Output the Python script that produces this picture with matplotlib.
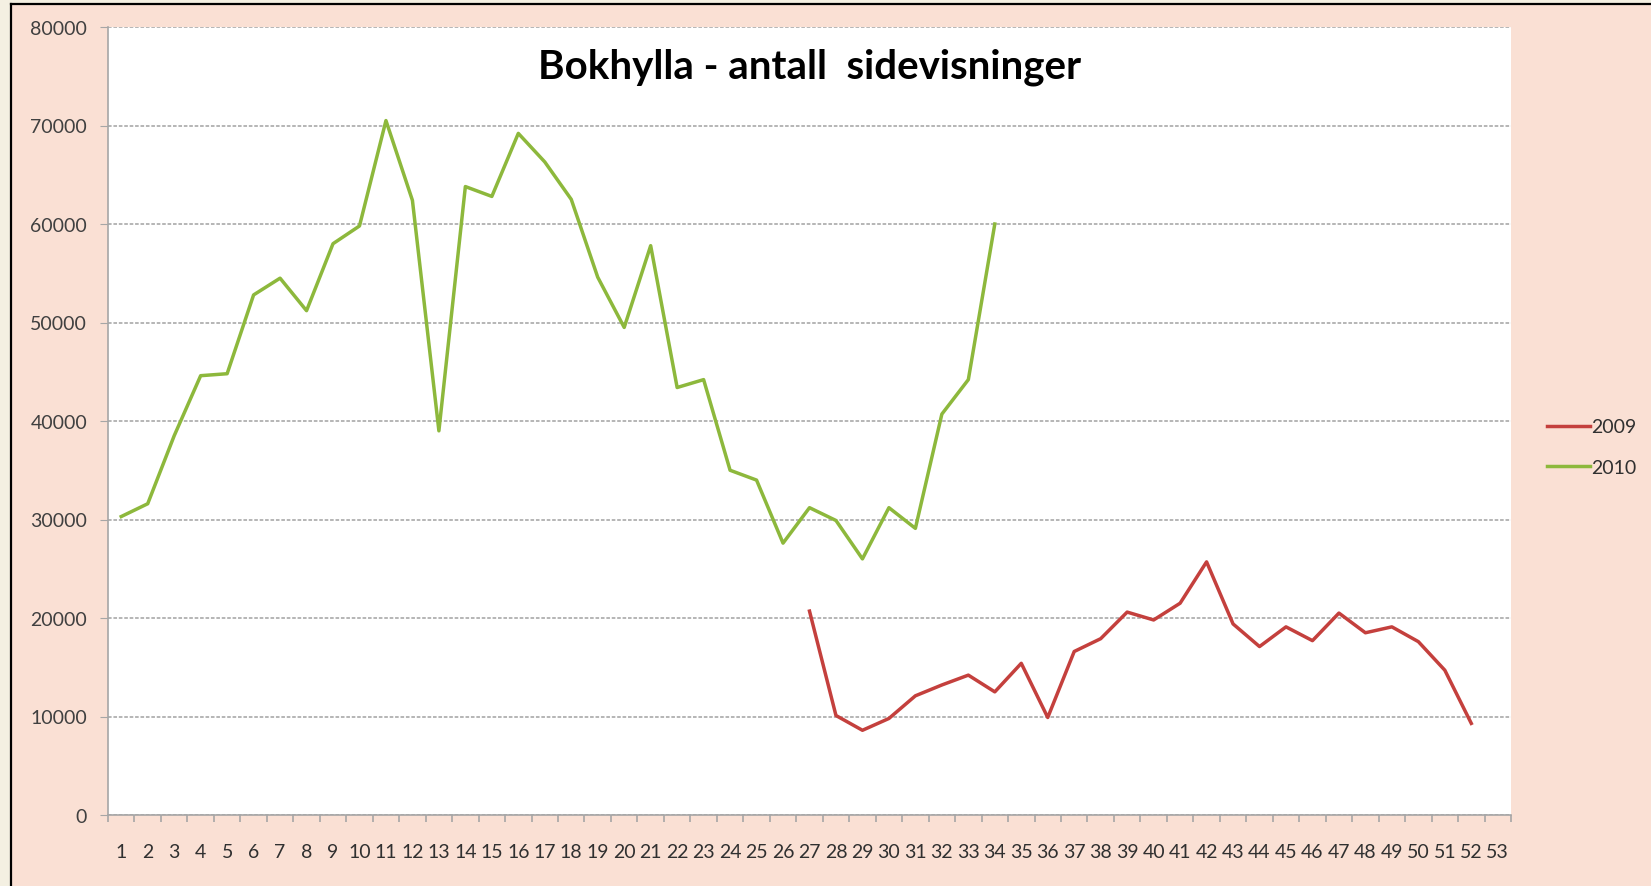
import matplotlib
matplotlib.use("Agg")
import matplotlib.pyplot as plt
from matplotlib.patches import Rectangle
from matplotlib.lines import Line2D

weeks = list(range(1, 54))
week_labels = [str(w) for w in weeks]

weeks_2009 = list(range(27, 53))
views_2009 = [20700, 10100, 8600, 9800, 12100, 13200, 14200, 12500, 15400, 9900,
              16600, 17900, 20600, 19800, 21500, 25700, 19400, 17100, 19100, 17700,
              20500, 18500, 19100, 17600, 14700, 9300]

weeks_2010 = list(range(1, 35))
views_2010 = [30300, 31600, 38500, 44600, 44800, 52800, 54500, 51200, 58000, 59800,
              70500, 62400, 39000, 63800, 62800, 69200, 66300, 62500, 54600, 49500,
              57800, 43400, 44200, 35000, 34000, 27600, 31200, 29900, 26000, 31200,
              29100, 40700, 44200, 60000]

y_ticks = list(range(0, 80001, 10000))
title = "Bokhylla - antall  sidevisninger"
series_names = ["2009", "2010"]

W, H = 1651, 887
fig = plt.figure(figsize=(W / 100, H / 100), dpi=100)
fig.patch.set_facecolor("#f4f0e2")

# textured pink chart area with black frame (left and top)
bg = Rectangle((11 / W, 0), 1 - 11 / W, 1 - 5 / H, transform=fig.transFigure,
               facecolor="#fae0d4", edgecolor="none", zorder=-10)
fig.patches.append(bg)
fig.lines.append(Line2D([11 / W, 11 / W], [0, 1 - 5 / H], transform=fig.transFigure,
                        color="black", lw=1.6, zorder=-5))
fig.lines.append(Line2D([11 / W, 1], [1 - 5 / H, 1 - 5 / H], transform=fig.transFigure,
                        color="black", lw=1.6, zorder=-5))

ax = fig.add_axes([108 / W, 1 - 816 / H, (1511 - 108) / W, (816 - 28) / H])
ax.set_zorder(1)
ax.set_facecolor("white")

red = "#C4403D"
green = "#8DB83C"
ax.plot(weeks_2009, views_2009, color=red, lw=2.5, label=series_names[0], zorder=3)
ax.plot(weeks_2010, views_2010, color=green, lw=2.5, label=series_names[1], zorder=3)

ax.set_xlim(0.5, 53.5)
ax.set_ylim(0, 80000)
ax.set_yticks(y_ticks)
ax.set_yticklabels([str(v) for v in y_ticks])
ax.set_xticks(weeks)
ax.set_xticklabels(week_labels)
ax.set_xticks([w + 0.5 for w in range(0, 54)], minor=True)

for s in ["top", "right"]:
    ax.spines[s].set_visible(False)
for s in ["left", "bottom"]:
    ax.spines[s].set_color("#a6a6a6")
    ax.spines[s].set_linewidth(1.2)

ax.grid(axis="y", color="#b0b0b0", lw=1.3, linestyle=(0, (2, 1)), zorder=1)
ax.set_axisbelow(True)

tick_font = "Lato"
ax.tick_params(axis="y", which="major", length=6, color="#a6a6a6", pad=9,
               labelsize=14, labelcolor="#404040")
ax.tick_params(axis="x", which="major", length=0, pad=20, labelsize=14, labelcolor="#303030")
ax.tick_params(axis="x", which="minor", length=5, color="#a6a6a6", width=1.2)
for lbl in ax.get_xticklabels() + ax.get_yticklabels():
    lbl.set_fontfamily(tick_font)

fig.text(810 / W, 1 - 78 / H, title, ha="center", va="baseline", fontsize=29,
         fontweight="bold", fontfamily="Lato", color="black", zorder=5)

leg = ax.legend(loc="center left", bbox_to_anchor=(1537 / W, 1 - 448 / H),
                bbox_transform=fig.transFigure, frameon=False, prop={"family": "Lato", "size": 14},
                handlelength=2.2, handletextpad=0.1, labelspacing=1.2, borderpad=0)
for t in leg.get_texts():
    t.set_color("#303030")

fig.savefig("out.png", dpi=100, facecolor=fig.get_facecolor())
